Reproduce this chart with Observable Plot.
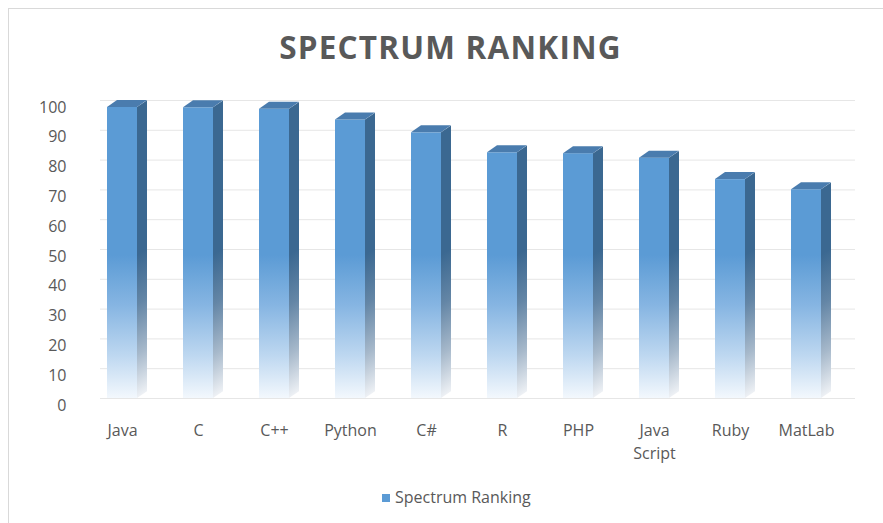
<!DOCTYPE html>
<html>
<head>
<meta charset="utf-8">
<script src="https://cdn.jsdelivr.net/npm/d3@7"></script>
<script src="https://cdn.jsdelivr.net/npm/@observablehq/plot@0.6"></script>
<style>
  body { margin: 0; background: #fff; }
  #wrap { position: relative; width: 883px; height: 523px; overflow: hidden; font-family: "Open Sans", sans-serif; }
  #frame { position: absolute; left: 8px; top: 8px; width: 900px; height: 600px; border-left: 1px solid #d9d9d9; border-top: 1px solid #d9d9d9; }
  #title { position: absolute; left: 0; width: 901px; top: 27px; text-align: center; font-size: 31.5px; font-weight: 700; color: #595959; letter-spacing: 1.2px; line-height: 40px; }
  #chart { position: absolute; left: 0; top: 0; }
  #legend { position: absolute; left: 382px; top: 486px; font-size: 16px; color: #595959; line-height: 22px; white-space: nowrap; }
  #legend span.sw { display: inline-block; width: 8px; height: 8px; background: #5b9bd5; margin-right: 5px; vertical-align: 1px; }
  g[fill="url(#gs)"] rect { transform-box: fill-box; transform-origin: 0 0; transform: skewY(-34deg); }
  g[fill="#4a7cae"] rect { transform-box: fill-box; transform-origin: 0 100%; transform: skewX(-55deg); }
</style>
</head>
<body>
<div id="wrap">
  <div id="frame"></div>
  <div id="title">SPECTRUM RANKING</div>
  <div id="chart"></div>
  <div id="legend"><span class="sw"></span>Spectrum Ranking</div>
</div>
<script>
const languages = ["Java", "C", "C++", "Python", "C#", "R", "PHP", "Java\nScript", "Ruby", "MatLab"];
const scores = [100, 99.9, 99.4, 95.8, 91.5, 84.8, 84.5, 83.0, 75.8, 72.4];
const yTicks = [0, 10, 20, 30, 40, 50, 60, 70, 80, 90, 100];

const data = languages.map((lang, i) => ({lang, score: scores[i]}));

const plot = Plot.plot({
  width: 883,
  height: 470,
  marginTop: 100,
  marginBottom: 72,
  marginLeft: 100,
  marginRight: 28,
  style: {fontFamily: "Open Sans, sans-serif", fontSize: "16px", color: "#595959", background: "transparent"},
  x: {domain: languages, range: [70, 868], padding: 0.475, axis: null},
  y: {domain: [0, 100], axis: null},
  marks: [
    Plot.ruleY(yTicks, {stroke: "#e6e6e6", strokeWidth: 1}),
    Plot.text(yTicks, {y: d => d, text: d => String(d), frameAnchor: "left", textAnchor: "end", dx: -34, dy: 7, fill: "#595959", fontSize: 16}),
    Plot.barY(data, {x: "lang", y: "score", insetLeft: 30, insetTop: 7, fill: "url(#gs)"}),
    Plot.barY(data, {x: "lang", y: "score", insetRight: 10, insetTop: 7, fill: "url(#gf)"}),
    Plot.barY(data, {x: "lang", y1: "score", y2: "score", insetRight: 10, insetBottom: -7, fill: "#4a7cae"}),
    Plot.text(data, {x: "lang", y: 0, text: "lang", dx: -5, dy: 22, lineAnchor: "top", lineHeight: 1.4, fill: "#595959", fontSize: 16})
  ]
});

const ys = plot.scale("y");
const yTop = ys.apply(48), yBot = ys.apply(0);
const defs = d3.select(plot).insert("defs", ":first-child");
function grad(id, stops) {
  const g = defs.append("linearGradient").attr("id", id)
    .attr("gradientUnits", "userSpaceOnUse")
    .attr("x1", 0).attr("x2", 0).attr("y1", yTop).attr("y2", yBot);
  stops.forEach(([o, c]) => g.append("stop").attr("offset", o).attr("stop-color", c));
}
grad("gf", [[0, "#5b9bd5"], [0.35, "#86b5e2"], [0.7, "#bdd7f0"], [1, "#f3f8fd"]]);
grad("gs", [[0, "#3b6891"], [0.35, "#6486a6"], [0.7, "#a7b9cb"], [1, "#eef1f5"]]);

document.getElementById("chart").appendChild(plot);
</script>
</body>
</html>
